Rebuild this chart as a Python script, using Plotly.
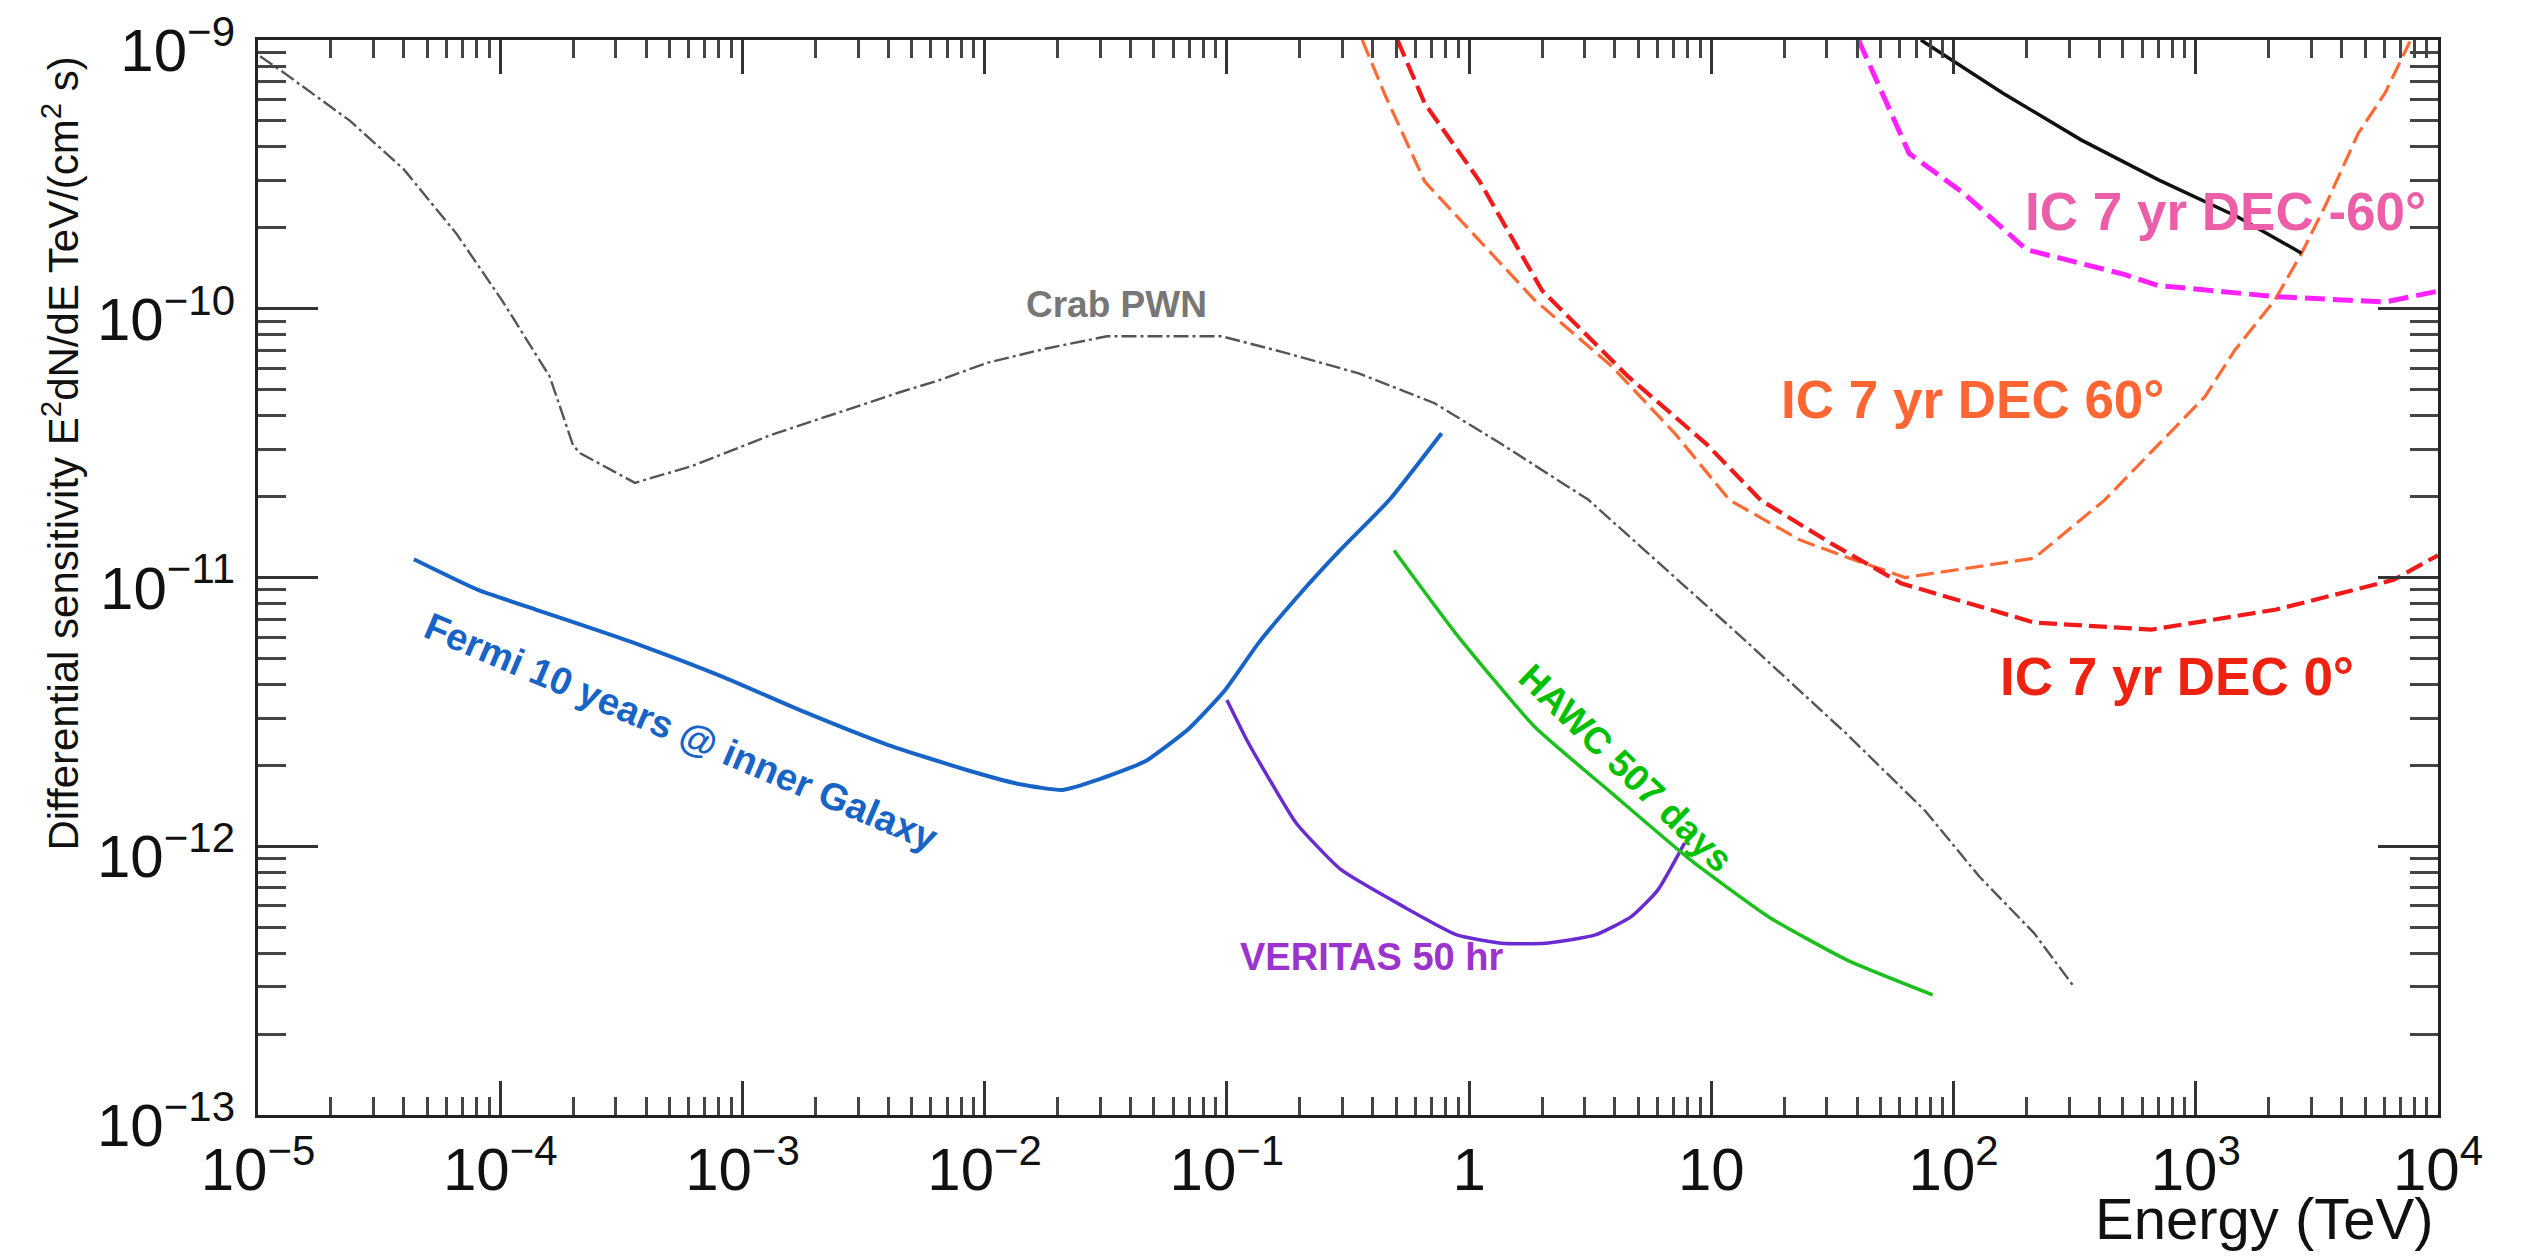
import numpy as np
import plotly.graph_objects as go

# ---- data: energy E (TeV) and differential sensitivity E^2 dN/dE (TeV cm^-2 s^-1) ----
crab_e = [1.02e-5, 1.32e-5, 2.4e-5, 4.0e-5, 6.6e-5, 1.02e-4, 1.6e-4, 2.0e-4, 2.14e-4, 3.6e-4,
          6.2e-4, 1.32e-3, 4.5e-3, 6.4e-3, 1.03e-2, 1.78e-2, 3.2e-2, 9.5e-2, 0.17, 0.35,
          0.72, 1.35, 3.1, 12.8, 36.0, 76.0, 128.0, 215.0, 310.0]
crab_s = [8.7e-10, 7.4e-10, 5.0e-10, 3.3e-10, 1.9e-10, 1.07e-10, 5.6e-11, 3.1e-11, 2.9e-11, 2.25e-11,
          2.6e-11, 3.4e-11, 4.9e-11, 5.4e-11, 6.3e-11, 7.1e-11, 7.9e-11, 7.9e-11, 6.9e-11, 5.75e-11,
          4.45e-11, 3.15e-11, 1.95e-11, 6.2e-12, 2.63e-12, 1.36e-12, 7.7e-13, 4.75e-13, 3.05e-13]

fermi_e = [4.4e-5, 8.1e-5, 1.4e-4, 2.6e-4, 4.0e-4, 8.3e-4, 1.8e-3, 3.9e-3, 8.3e-3, 1.4e-2,
           2.1e-2, 3.0e-2, 4.6e-2, 7.0e-2, 9.8e-2, 0.135, 0.196, 0.29, 0.47, 0.77]
fermi_s = [1.17e-11, 9.0e-12, 7.6e-12, 6.3e-12, 5.5e-12, 4.27e-12, 3.16e-12, 2.4e-12, 1.93e-12, 1.7e-12,
           1.62e-12, 1.78e-12, 2.07e-12, 2.75e-12, 3.8e-12, 5.7e-12, 8.5e-12, 1.25e-11, 1.95e-11, 3.44e-11]

veritas_e = [0.100, 0.121, 0.150, 0.193, 0.295, 0.536, 0.89, 1.36, 2.08, 3.32, 4.67, 6.01, 7.76]
veritas_s = [3.5e-12, 2.48e-12, 1.77e-12, 1.22e-12, 8.2e-13, 5.96e-13, 4.68e-13, 4.36e-13, 4.36e-13,
             4.68e-13, 5.47e-13, 6.87e-13, 1.03e-12]

hawc_e = [0.49, 0.88, 1.86, 3.9, 8.2, 17.2, 36.2, 82.0]
hawc_s = [1.26e-11, 6.2e-12, 2.79e-12, 1.57e-12, 8.9e-13, 5.47e-13, 3.78e-13, 2.8e-13]

ic_dec0_e = [0.506, 0.656, 1.10, 2.0, 4.53, 9.5, 16.0, 31.2, 61.0, 215.0, 656.0, 2150.0, 6560.0, 10000.0]
ic_dec0_s = [1.0e-9, 5.8e-10, 3.0e-10, 1.17e-10, 5.6e-11, 3.15e-11, 1.94e-11, 1.34e-11, 9.5e-12,
             6.8e-12, 6.4e-12, 7.6e-12, 9.8e-12, 1.21e-11]

ic_dec60_e = [0.362, 0.453, 0.656, 1.10, 1.86, 3.9, 7.06, 11.9, 23.2, 36.2, 63.1, 215.0, 420.0,
              1091.0, 1452.0, 2123.0, 2735.0, 3412.0, 4688.0, 6039.0, 7656.0]
ic_dec60_s = [1.0e-9, 6.15e-10, 2.97e-10, 1.8e-10, 1.08e-10, 6.08e-11, 3.44e-11, 1.94e-11, 1.38e-11,
              1.19e-11, 1.0e-11, 1.18e-11, 1.94e-11, 4.71e-11, 7.03e-11, 1.08e-10, 1.61e-10, 2.4e-10,
              4.5e-10, 6.34e-10, 9.86e-10]

ic_decm60_e = [40.5, 52.5, 65.6, 110.0, 200.0, 510.0, 700.0, 2120.0, 6040.0, 9860.0]
ic_decm60_s = [1.0e-9, 5.98e-10, 3.78e-10, 2.69e-10, 1.66e-10, 1.34e-10, 1.22e-10, 1.11e-10, 1.06e-10, 1.16e-10]

ref_line_e = [73.3, 160.0, 336.0, 705.0, 1486.0, 2735.0]
ref_line_s = [1.0e-9, 6.34e-10, 4.25e-10, 3.01e-10, 2.2e-10, 1.61e-10]

# ---- axis ticks ----
x_tick_vals = [1e-5, 1e-4, 1e-3, 1e-2, 1e-1, 1, 10, 1e2, 1e3, 1e4]
x_tick_text = ["10<sup>−5</sup>", "10<sup>−4</sup>", "10<sup>−3</sup>", "10<sup>−2</sup>",
               "10<sup>−1</sup>", "1", "10", "10<sup>2</sup>", "10<sup>3</sup>", "10<sup>4</sup>"]
y_tick_vals = [1e-13, 1e-12, 1e-11, 1e-10, 1e-9]
y_tick_text = ["10<sup>−13</sup>", "10<sup>−12</sup>", "10<sup>−11</sup>", "10<sup>−10</sup>", "10<sup>−9</sup>"]

x_minor = [k * 10.0 ** d for d in range(-5, 4) for k in range(2, 10)]
y_minor = [k * 10.0 ** d for d in range(-13, -9) for k in range(2, 10)]

FONT = "Liberation Sans, Arial, Helvetica, sans-serif"

fig = go.Figure()


def add_curve(x, y, color, width, dash="solid", smooth=False):
    line = dict(color=color, width=width, dash=dash)
    if smooth:
        line.update(shape="spline", smoothing=0.5)
    fig.add_trace(go.Scatter(x=x, y=y, mode="lines", line=line,
                             hoverinfo="skip", showlegend=False))


add_curve(crab_e, crab_s, "#555555", 2.4, "15px,4px,3px,4px")
add_curve(fermi_e, fermi_s, "#1763c6", 4, smooth=True)
add_curve(veritas_e, veritas_s, "#6a2bd0", 3.5, smooth=True)
add_curve(hawc_e, hawc_s, "#1cc01c", 3.5, smooth=True)
add_curve(ic_dec60_e, ic_dec60_s, "#ff6a33", 3.2, "18px,7px")
add_curve(ic_dec0_e, ic_dec0_s, "#f01a1a", 4.2, "18px,7px")
add_curve(ic_decm60_e, ic_decm60_s, "#ff22ff", 5, "20px,8px")
add_curve(ref_line_e, ref_line_s, "#111111", 3.5)

# ---- curve labels ----
labels = [
    ("Crab PWN", 0.0351, 1.04e-10, "#777777", 37, 0),
    ("Fermi 10 years @ inner Galaxy", 5.6e-4, 2.67e-12, "#1763c6", 38, 23),
    ("VERITAS 50 hr", 0.395, 3.88e-13, "#9b33cc", 38, 0),
    ("HAWC 507 days", 4.45, 1.95e-12, "#00c000", 37, 44),
    ("IC 7 yr DEC 60°", 120.0, 4.61e-11, "#ff6633", 53, 0),
    ("IC 7 yr DEC 0°", 835.0, 4.28e-12, "#ee2211", 53, 0),
    ("IC 7 yr DEC -60°", 1330.0, 2.3e-10, "#ec5fa8", 53, 0),
]
for text, xe, ys, color, size, angle in labels:
    fig.add_annotation(x=np.log10(xe), y=np.log10(ys), xref="x", yref="y", text=text,
                       showarrow=False, textangle=angle, xanchor="center", yanchor="middle",
                       font=dict(family=FONT, size=size, color=color, weight="bold"))

# ---- axis titles ----
fig.add_annotation(x=-0.0905, y=0.615, xref="paper", yref="paper", textangle=-90,
                   text="Differential sensitivity E<sup>2</sup>dN/dE TeV/(cm<sup>2</sup> s)",
                   showarrow=False, xanchor="center", yanchor="middle",
                   font=dict(family=FONT, size=42, color="#111111"))
fig.add_annotation(x=0.9986, y=-0.0967, xref="paper", yref="paper", text="Energy (TeV)",
                   showarrow=False, xanchor="right", yanchor="middle",
                   font=dict(family=FONT, size=58, color="#111111"))

axis_common = dict(type="log", showgrid=False, zeroline=False, showline=True,
                   linecolor="#222222", linewidth=3, mirror="allticks",
                   ticks="inside", tickwidth=3, tickcolor="#333333",
                   tickmode="array", ticklabeloverflow="allow", automargin=False,
                   tickfont=dict(family=FONT, size=60, color="#111111"))

fig.update_xaxes(**axis_common, range=[-5.000001, 4.000001], tickvals=x_tick_vals,
                 ticktext=x_tick_text, ticklen=34,
                 minor=dict(tickmode="array", tickvals=x_minor, ticks="inside", ticklen=18,
                            tickwidth=2.5, tickcolor="#444444", showgrid=False))
fig.update_yaxes(**axis_common, range=[-13.000001, -8.999999], tickvals=y_tick_vals,
                 ticktext=y_tick_text, ticklen=60, ticklabelstandoff=8, ticklabelshift=10,
                 minor=dict(tickmode="array", tickvals=y_minor, ticks="inside", ticklen=28,
                            tickwidth=2.5, tickcolor="#444444", showgrid=False))

fig.update_layout(width=2525, height=1260, autosize=False,
                  margin=dict(l=258, r=87, t=40, b=145, pad=0, autoexpand=False),
                  paper_bgcolor="white", plot_bgcolor="white",
                  font=dict(family=FONT))

fig.write_html("out.html")
